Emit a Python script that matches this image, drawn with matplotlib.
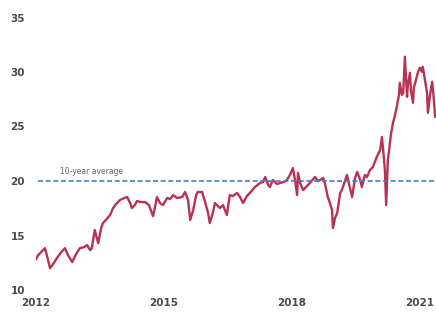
import matplotlib
matplotlib.use("Agg")
from matplotlib import pyplot as plt

# Readings (decimal year, value)
years = [
    2012.00, 2012.05, 2012.12, 2012.21, 2012.26, 2012.33, 2012.40, 2012.49, 2012.59, 2012.68,
    2012.75, 2012.85, 2012.94, 2013.03, 2013.13, 2013.20, 2013.27, 2013.31, 2013.38, 2013.46,
    2013.53, 2013.57, 2013.64, 2013.74, 2013.81, 2013.88, 2013.97, 2014.07, 2014.14, 2014.21,
    2014.25, 2014.32, 2014.37, 2014.46, 2014.56, 2014.65, 2014.75, 2014.84, 2014.91, 2014.98,
    2015.08, 2015.15, 2015.22, 2015.31, 2015.43, 2015.50, 2015.57, 2015.62, 2015.69, 2015.76,
    2015.80, 2015.90, 2015.97, 2016.04, 2016.08, 2016.15, 2016.20, 2016.27, 2016.32, 2016.39,
    2016.48, 2016.55, 2016.62, 2016.72, 2016.79, 2016.86, 2016.95, 2017.02, 2017.14, 2017.26,
    2017.33, 2017.38, 2017.45, 2017.49, 2017.56, 2017.66, 2017.73, 2017.82, 2017.89, 2017.96,
    2018.03, 2018.08, 2018.13, 2018.15, 2018.20, 2018.27, 2018.36, 2018.43, 2018.55, 2018.62,
    2018.67, 2018.74, 2018.78, 2018.85, 2018.90, 2018.95, 2018.97, 2019.02, 2019.07, 2019.14,
    2019.18, 2019.30, 2019.37, 2019.42, 2019.49, 2019.54, 2019.61, 2019.65, 2019.72, 2019.77,
    2019.84, 2019.91, 2020.00, 2020.08, 2020.12, 2020.15, 2020.19, 2020.22, 2020.26, 2020.29,
    2020.33, 2020.38, 2020.43, 2020.47, 2020.52, 2020.54, 2020.59, 2020.62, 2020.66, 2020.69,
    2020.71, 2020.73, 2020.78, 2020.80, 2020.85, 2020.87, 2020.92, 2020.97, 2021.01, 2021.06,
    2021.08, 2021.13, 2021.18, 2021.20, 2021.25, 2021.30, 2021.34, 2021.37, 2021.39,
]
values = [
    12.83, 13.20, 13.47, 13.84, 13.11, 12.00, 12.37, 12.92, 13.47, 13.84,
    13.20, 12.56, 13.29, 13.84, 13.93, 14.12, 13.66, 13.84, 15.50, 14.30,
    15.68, 16.14, 16.42, 16.88, 17.52, 17.89, 18.25, 18.44, 18.53, 17.98,
    17.52, 17.79, 18.16, 18.07, 18.07, 17.79, 16.78, 18.53, 17.98, 17.79,
    18.44, 18.35, 18.71, 18.44, 18.53, 18.99, 18.25, 16.42, 17.33, 18.71,
    18.99, 18.99, 18.07, 17.06, 16.14, 17.06, 17.98, 17.70, 17.52, 17.79,
    16.88, 18.71, 18.62, 18.90, 18.53, 17.98, 18.62, 18.90, 19.45, 19.82,
    19.91, 20.37, 19.63, 19.45, 20.09, 19.72, 19.82, 19.91, 20.09, 20.55,
    21.19, 20.09, 18.71, 20.74, 19.82, 19.17, 19.54, 19.82, 20.37, 20.00,
    20.09, 20.28, 19.82, 18.53, 17.98, 17.33, 15.68, 16.60, 17.06, 18.90,
    19.17, 20.55, 19.36, 18.53, 20.28, 20.83, 20.09, 19.45, 20.55, 20.37,
    21.01, 21.29, 22.21, 22.85, 24.04, 22.85, 21.01, 17.79, 21.93, 22.85,
    24.23, 25.33, 26.07, 26.80, 27.90, 29.01, 27.90, 28.09, 31.40, 29.28,
    27.72, 28.82, 29.93, 28.36, 27.17, 28.55, 29.28, 30.02, 30.39, 30.02,
    30.48, 29.28, 28.09, 26.25, 27.90, 29.10, 27.44, 25.88, 25.88,
]

avg_value = 20
avg_label = "10-year average"
x_ticks = [2012, 2015, 2018, 2021]
y_ticks = [10, 15, 20, 25, 30, 35]

fig = plt.figure(figsize=(4.36, 3.14), dpi=100)
ax = fig.add_axes([36 / 436, 1 - 290 / 314, 400 / 436, 272.5 / 314])

ax.plot(years, values, color="#b83252", linewidth=1.7, solid_joinstyle="round")
ax.plot([2012.05, 2021.39], [avg_value, avg_value], color="#3f80c2",
        linewidth=1.2, dashes=(3, 1.6), zorder=3)
ax.text(2012.56, avg_value + 0.45, avg_label, fontsize=5.5, color="#666666",
        va="bottom", ha="left")

ax.set_xlim(2012, 2021.39)
ax.set_ylim(10, 35)
ax.set_xticks(x_ticks)
ax.set_xticklabels([str(t) for t in x_ticks])
ax.set_yticks(y_ticks)
ax.tick_params(axis="both", length=0, colors="#4a4a4a", labelsize=7.5)
ax.tick_params(axis="x", pad=6)
ax.tick_params(axis="y", pad=8)
for lbl in ax.get_xticklabels() + ax.get_yticklabels():
    lbl.set_fontweight("bold")
for s in ax.spines.values():
    s.set_visible(False)

fig.savefig("out.png", dpi=100)
